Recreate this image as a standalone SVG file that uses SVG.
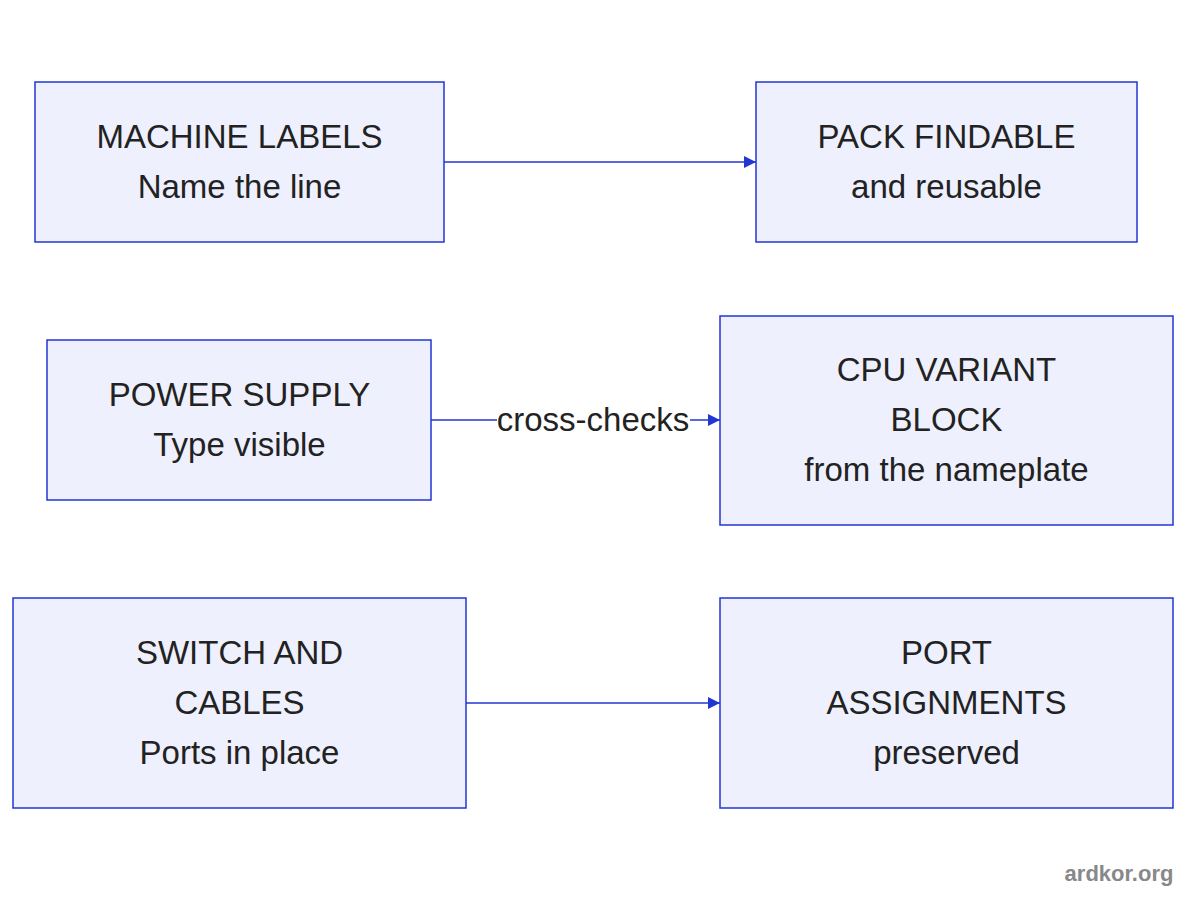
<svg xmlns="http://www.w3.org/2000/svg" width="1200" height="900" viewBox="0 0 1200 900">
<style>
.n rect{fill:#eef0fd;stroke:#2236d4;stroke-width:1.5}
text{font-family:"Liberation Sans",Arial,sans-serif;font-size:33px;fill:#222;text-anchor:middle}
.e{stroke:#2236d4;stroke-width:1.5;fill:none;marker-end:url(#a)}
</style>
<defs><marker id="a" viewBox="0 0 10 10" refX="10" refY="5" markerWidth="13" markerHeight="12" markerUnits="userSpaceOnUse" orient="auto"><path d="M0,0L10,5L0,10z" fill="#2236d4"/></marker></defs>
<rect width="1200" height="900" fill="#fff"/>
<g id="connectors">
<path class="e" d="M444,162H756"/>
<path class="e" d="M431,420H720"/>
<rect x="497" y="403" width="193" height="34" fill="#fff"/>
<text x="593" y="431">cross-checks</text>
<path class="e" d="M466,703H720"/>
</g>
<g id="n1" class="n"><rect x="35" y="82" width="409" height="160"/><text x="239.5" y="148">MACHINE LABELS</text><text x="239.5" y="198">Name the line</text></g>
<g id="n2" class="n"><rect x="756" y="82" width="381" height="160"/><text x="946.5" y="148">PACK FINDABLE</text><text x="946.5" y="198">and reusable</text></g>
<g id="n3" class="n"><rect x="47" y="340" width="384" height="160"/><text x="239.5" y="406">POWER SUPPLY</text><text x="239.5" y="456">Type visible</text></g>
<g id="n4" class="n"><rect x="720" y="316" width="453" height="209"/><text x="946.5" y="381">CPU VARIANT</text><text x="946.5" y="431">BLOCK</text><text x="946.5" y="481">from the nameplate</text></g>
<g id="n5" class="n"><rect x="13" y="598" width="453" height="210"/><text x="239.5" y="664">SWITCH AND</text><text x="239.5" y="714">CABLES</text><text x="239.5" y="764">Ports in place</text></g>
<g id="n6" class="n"><rect x="720" y="598" width="453" height="210"/><text x="946.5" y="664">PORT</text><text x="946.5" y="714">ASSIGNMENTS</text><text x="946.5" y="764">preserved</text></g>
<text x="1119" y="881" style="font-size:22px;font-weight:bold;fill:#888">ardkor.org</text>
</svg>
